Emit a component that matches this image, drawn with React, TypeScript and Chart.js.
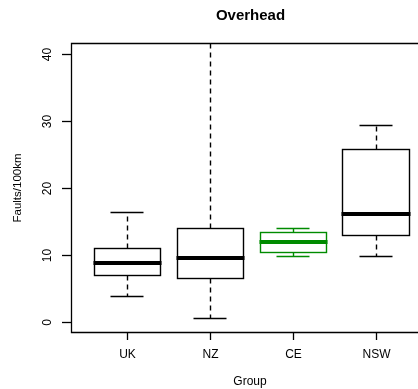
import React, { useEffect, useRef } from "react";
import { Chart, registerables } from "chart.js";

Chart.register(...registerables);

const categories = ["UK", "NZ", "CE", "NSW"];
const whiskerLow = [3.95, 0.7, 9.95, 9.95];
const q1 = [7.1, 6.55, 10.5, 13.0];
const median = [8.8, 9.65, 12.0, 16.2];
const q3 = [11.05, 14.0, 13.5, 25.8];
const whiskerHigh = [16.5, 45, 14.0, 29.45];
const boxColors = ["#000000", "#000000", "#008B00", "#000000"];
const yTicks = [0, 10, 20, 30, 40];
const titleText = "Overhead";
const xTitle = "Group";
const yTitle = "Faults/100km";

const FONT = "'Liberation Sans', Arial, Helvetica, sans-serif";

const boxPlugin = {
  id: "rbox",
  afterDatasetsDraw(chart: any) {
    const ctx = chart.ctx as CanvasRenderingContext2D;
    const xs = chart.scales.x;
    const ys = chart.scales.y;
    const area = chart.chartArea;
    ctx.save();
    ctx.save();
    ctx.beginPath();
    ctx.rect(area.left, area.top, area.right - area.left, area.bottom - area.top);
    ctx.clip();
    categories.forEach((_, i) => {
      const c = i + 1;
      const color = boxColors[i];
      const xl = Math.round(xs.getPixelForValue(c - 0.4)) + 0.5;
      const xr = Math.round(xs.getPixelForValue(c + 0.4)) + 0.5;
      const xc = Math.round(xs.getPixelForValue(c)) + 0.5;
      const cl = Math.round(xs.getPixelForValue(c - 0.2)) + 0.5;
      const cr = Math.round(xs.getPixelForValue(c + 0.2)) + 0.5;
      const py = (v: number) => Math.round(ys.getPixelForValue(v)) + 0.5;
      ctx.strokeStyle = color;
      ctx.lineWidth = 1.4;
      ctx.setLineDash([5, 4]);
      ctx.beginPath();
      ctx.moveTo(xc, py(q3[i]));
      ctx.lineTo(xc, py(whiskerHigh[i]));
      ctx.moveTo(xc, py(q1[i]));
      ctx.lineTo(xc, py(whiskerLow[i]));
      ctx.stroke();
      ctx.setLineDash([]);
      ctx.beginPath();
      ctx.moveTo(cl, py(whiskerHigh[i]));
      ctx.lineTo(cr, py(whiskerHigh[i]));
      ctx.moveTo(cl, py(whiskerLow[i]));
      ctx.lineTo(cr, py(whiskerLow[i]));
      ctx.stroke();
      ctx.strokeRect(xl, py(q3[i]), xr - xl, py(q1[i]) - py(q3[i]));
      ctx.lineWidth = 4;
      ctx.beginPath();
      ctx.moveTo(xl - 1, Math.round(ys.getPixelForValue(median[i])));
      ctx.lineTo(xr + 1, Math.round(ys.getPixelForValue(median[i])));
      ctx.stroke();
    });
    ctx.restore();

    ctx.strokeStyle = "#000";
    ctx.lineWidth = 1.3;
    ctx.beginPath();
    ctx.moveTo(area.right + 20, area.top - 0.5);
    ctx.lineTo(area.left - 0.5, area.top - 0.5);
    ctx.lineTo(area.left - 0.5, area.bottom - 0.5);
    ctx.lineTo(area.right + 20, area.bottom - 0.5);
    ctx.stroke();

    ctx.fillStyle = "#000";
    ctx.font = `12px ${FONT}`;
    ctx.textAlign = "center";
    ctx.textBaseline = "middle";
    yTicks.forEach((t) => {
      const y = Math.round(ys.getPixelForValue(t)) + 0.5;
      ctx.beginPath();
      ctx.moveTo(area.left - 10, y);
      ctx.lineTo(area.left, y);
      ctx.stroke();
      ctx.save();
      ctx.translate(48, y);
      ctx.rotate(-Math.PI / 2);
      ctx.fillText(String(t), 0, 0);
      ctx.restore();
    });
    categories.forEach((lab, i) => {
      const x = Math.round(xs.getPixelForValue(i + 1)) + 0.5;
      ctx.beginPath();
      ctx.moveTo(x, area.bottom);
      ctx.lineTo(x, area.bottom + 7);
      ctx.stroke();
      ctx.fillText(lab, x, 355);
    });
    ctx.fillText(xTitle, 250, 382);
    ctx.save();
    ctx.font = `11.5px ${FONT}`;
    ctx.translate(18, 188);
    ctx.rotate(-Math.PI / 2);
    ctx.fillText(yTitle, 0, 0);
    ctx.restore();
    ctx.font = `bold 15px ${FONT}`;
    ctx.fillText(titleText, 250.5, 16);
    ctx.restore();
  },
};

export default function App() {
  const ref = useRef<HTMLCanvasElement | null>(null);
  useEffect(() => {
    if (!ref.current) return;
    const chart = new Chart(ref.current, {
      type: "scatter",
      data: {
        datasets: [
          {
            label: "median",
            data: median.map((m, i) => ({ x: i + 1, y: m })),
            pointRadius: 0,
            showLine: false,
          },
        ],
      },
      options: {
        responsive: false,
        animation: false,
        layout: { padding: { left: 72, top: 44, right: 0, bottom: 56 } },
        plugins: { legend: { display: false }, tooltip: { enabled: false }, title: { display: false } },
        scales: {
          x: { type: "linear", min: 0.34, max: 4.51, display: false },
          y: { type: "linear", min: -1.6, max: 41.5, display: false },
        },
      },
      plugins: [boxPlugin],
    });
    return () => chart.destroy();
  }, []);
  return (
    <div style={{ position: "fixed", left: 0, top: 0, width: 418, height: 389, background: "#fff" }}>
      <canvas ref={ref} width={418} height={389} style={{ width: 418, height: 389 }} />
    </div>
  );
}
